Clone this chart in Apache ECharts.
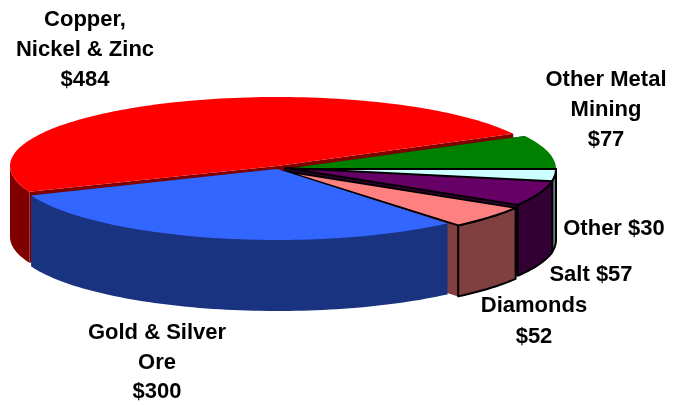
<!DOCTYPE html>
<html>
<head>
<meta charset="utf-8">
<style>html,body{margin:0;padding:0;background:#fff}#c{width:673px;height:405px}</style>
<script src="https://cdn.jsdelivr.net/npm/echarts@6/dist/echarts.min.js"></script>
</head>
<body>
<div id="c"></div>
<script>
// Data, clockwise from the copper slice
const categories = ['Copper, Nickel & Zinc', 'Other Metal Mining', 'Other', 'Salt', 'Diamonds', 'Gold & Silver Ore'];
const values = [484, 77, 30, 57, 52, 300];
const labelLines = [
  ['Copper,', 'Nickel & Zinc', '$484'],
  ['Other Metal', 'Mining', '$77'],
  ['Other $30'],
  ['Salt $57'],
  ['Diamonds', '$52'],
  ['Gold & Silver', 'Ore', '$300']
];

// Styles
const topColors = ['#ff0000', '#008000', '#ccffff', '#660066', '#ff8080', '#3366ff'];
const sideColors = ['#800000', '#004000', '#668080', '#330033', '#804040', '#1a3380'];
const outlined = [false, false, true, true, true, false];
const centers = [[277, 166], [285, 169], [285, 169], [286, 168], [284, 171], [277, 169]];
const radii = [[267, 69], [271, 71], [271, 71], [271, 71], [271, 71], [265, 71]];
const labelX = [85, 606, 614, 591, 534, 157];
const labelY = [[20, 50, 80], [80, 110, 140], [229], [275], [306, 337], [333, 363, 392]];
const startAngle = 158;
const depth = 71;

const total = values.reduce((a, b) => a + b, 0);

function arc(i, a0, a1) {
  const pts = [];
  const n = Math.max(2, Math.ceil(Math.abs(a1 - a0) / 1.5));
  for (let k = 0; k <= n; k++) {
    const t = (a0 + (a1 - a0) * k / n) * Math.PI / 180;
    pts.push([centers[i][0] + radii[i][0] * Math.cos(t), centers[i][1] + radii[i][1] * Math.sin(t)]);
  }
  return pts;
}
const down = p => [p[0], p[1] + depth];

function renderItem(params, api) {
  const i = params.dataIndex;
  let before = 0;
  for (let k = 0; k < i; k++) before += values[k];
  const a0 = startAngle + before / total * 360;
  const a1 = a0 + api.value(0) / total * 360;
  const apex = centers[i];
  const rim = arc(i, a0, a1);
  const stroke = outlined[i] ? { stroke: '#000', lineWidth: 2, lineJoin: 'round' } : { stroke: null };
  const children = [];

  // Inner cut faces
  [rim[0], rim[rim.length - 1]].forEach(c => {
    children.push({
      type: 'polygon',
      shape: { points: [apex, c, down(c), down(apex)] },
      style: { fill: sideColors[i] }
    });
  });

  // Outer wall: only the front part of the rim (angles in 0..180, mod 360)
  const lo = ((a0 % 360) + 360) % 360;
  const hi = lo + (a1 - a0);
  [[0, 180], [360, 540]].forEach(r => {
    const s = Math.max(lo, r[0]), e = Math.min(hi, r[1]);
    if (e > s) {
      const front = arc(i, s, e);
      children.push({
        type: 'polygon',
        shape: { points: front.concat(front.map(down).reverse()) },
        style: Object.assign({ fill: sideColors[i] }, stroke)
      });
    }
  });

  // Top face
  children.push({
    type: 'polygon',
    shape: { points: [apex].concat(rim) },
    style: Object.assign({ fill: topColors[i] }, stroke)
  });

  return { type: 'group', children };
}

function renderLabel(params, api) {
  const i = params.dataIndex;
  return {
    type: 'group',
    children: labelLines[i].map((line, k) => ({
      type: 'text',
      style: {
        x: labelX[i], y: labelY[i][k], text: line,
        fill: '#000', align: 'center', verticalAlign: 'middle',
        font: 'bold 22px "Liberation Sans", Arial, sans-serif'
      }
    }))
  };
}

const seriesData = categories.map((name, i) => ({ name, value: [values[i]] }));

const chart = echarts.init(document.getElementById('c'), null, { renderer: 'canvas' });
chart.setOption({
  animation: false,
  backgroundColor: '#fff',
  series: [
    { type: 'custom', coordinateSystem: 'none', renderItem, data: seriesData, silent: true, z: 2 },
    { type: 'custom', coordinateSystem: 'none', renderItem: renderLabel, data: seriesData, silent: true, z: 3 }
  ]
});
</script>
</body>
</html>
